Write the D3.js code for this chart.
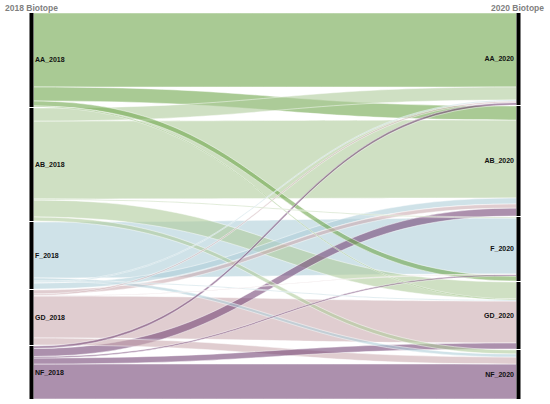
<!DOCTYPE html>
<html><head><meta charset="utf-8">
<script src="https://cdn.jsdelivr.net/npm/d3@7"></script>
<style>html,body{margin:0;padding:0;background:#fff;}svg{display:block;}</style>
</head><body>
<svg id="chart" width="550" height="404"></svg>
<script>
// ---- data ----
const categories = ["AA", "AB", "F", "GD", "NF"];
const sourceLabels = ["AA_2018", "AB_2018", "F_2018", "GD_2018", "NF_2018"];
const targetLabels = ["AA_2020", "AB_2020", "F_2020", "GD_2020", "NF_2020"];
const headers = ["2018 Biotope", "2020 Biotope"];
// flow values: rows = 2018 biotope, columns = 2020 biotope (AA, AB, F, GD, NF)
const flowAA = [74, 14, 5, 1, 0];
const flowAB = [13, 78, 1, 17, 4];
const flowF  = [1, 6, 56, 1, 3];
const flowGD = [1.5, 4, 0.5, 42, 7];
const flowNF = [2.5, 8, 1.5, 6, 35];
const flows = [flowAA, flowAB, flowF, flowGD, flowNF];
// stacking order of the links at each 2018 node (targets) and each 2020 node (sources)
const outOrder = [
  ["AA", "AB", "F", "GD", "NF"],
  ["AA", "AB", "F", "GD", "NF"],
  ["F", "NF", "GD", "AA", "AB"],
  ["AB", "AA", "F", "GD", "NF"],
  ["AA", "AB", "F", "GD", "NF"]
];
const inOrder = [
  ["AA", "AB", "F", "GD", "NF"],
  ["AA", "AB", "F", "GD", "NF"],
  ["AB", "F", "GD", "NF", "AA"],
  ["AB", "AA", "F", "GD", "NF"],
  ["AB", "F", "GD", "NF", "AA"]
];
const colors = ["#70a74d", "#afcb9b", "#afcfd9", "#cbacb1", "#744676"];

// ---- layout ----
(function () {
const svg = d3.select("#chart");
const yTop = 13, yBottom = 399;
const xLeft = 29.5, xRight = 516.5, barW = 4;
const pad = 1;
const total = d3.sum(flows.flat());
const y = d3.scaleLinear().domain([0, total + pad * (categories.length - 1)]).range([yTop, yBottom]);
const color = d3.scaleOrdinal().domain(categories).range(colors);

const idx = c => categories.indexOf(c);
const srcTotals = flows.map(r => d3.sum(r));
const tgtTotals = categories.map((c, j) => d3.sum(flows, r => r[j]));

function nodeStarts(tot) {
  let acc = 0; return tot.map(v => { const s = acc; acc += v + pad; return s; });
}
const srcStart = nodeStarts(srcTotals);
const tgtStart = nodeStarts(tgtTotals);

const links = [];
categories.forEach((s, i) => categories.forEach((t, j) => {
  if (flows[i][j] > 0) links.push({s: i, t: j, v: flows[i][j]});
}));
categories.forEach((c, i) => {
  let acc = srcStart[i];
  outOrder[i].forEach(tc => {
    const l = links.find(d => d.s === i && d.t === idx(tc));
    if (l) { l.sy0 = acc; acc += l.v; l.sy1 = acc; }
  });
});
categories.forEach((c, j) => {
  let acc = tgtStart[j];
  inOrder[j].forEach(sc => {
    const l = links.find(d => d.t === j && d.s === idx(sc));
    if (l) { l.ty0 = acc; acc += l.v; l.ty1 = acc; }
  });
});

const x0 = xLeft + barW, x1 = xRight;
const xm = (x0 + x1) / 2;
function ribbon(d) {
  const a = y(d.sy0), b = y(d.sy1), c = y(d.ty0), e = y(d.ty1);
  const p = d3.path();
  p.moveTo(x0, a);
  p.bezierCurveTo(xm, a, xm, c, x1, c);
  p.lineTo(x1, e);
  p.bezierCurveTo(xm, e, xm, b, x0, b);
  p.closePath();
  return p.toString();
}

svg.append("g").selectAll("path")
  .data(links.slice().sort((a, b) => b.v - a.v))
  .join("path")
  .attr("d", ribbon)
  .attr("fill", d => color(categories[d.s]))
  .attr("fill-opacity", 0.6)
  .attr("stroke", "#fff")
  .attr("stroke-width", 0.6)
  .attr("stroke-opacity", 0.8);

svg.append("g").selectAll("rect").data(categories).join("rect")
  .attr("x", xLeft).attr("width", barW)
  .attr("y", (c, i) => y(srcStart[i]))
  .attr("height", (c, i) => y(srcStart[i] + srcTotals[i]) - y(srcStart[i]))
  .attr("fill", "#000");
svg.append("g").selectAll("rect").data(categories).join("rect")
  .attr("x", xRight).attr("width", barW)
  .attr("y", (c, j) => y(tgtStart[j]))
  .attr("height", (c, j) => y(tgtStart[j] + tgtTotals[j]) - y(tgtStart[j]))
  .attr("fill", "#000");

const font = "'Liberation Sans', Arial, Helvetica, sans-serif";
svg.append("g").selectAll("text").data(sourceLabels).join("text")
  .attr("x", xLeft + barW + 1.5)
  .attr("y", (d, i) => y(srcStart[i] + srcTotals[i] / 2))
  .attr("dy", "0.35em")
  .attr("font-family", font).attr("font-size", 7).attr("font-weight", "bold")
  .attr("fill", "#111").text(d => d);
svg.append("g").selectAll("text").data(targetLabels).join("text")
  .attr("x", xRight - 2.5)
  .attr("y", (d, j) => y(tgtStart[j] + tgtTotals[j] / 2))
  .attr("dy", "0.35em").attr("text-anchor", "end")
  .attr("font-family", font).attr("font-size", 7).attr("font-weight", "bold")
  .attr("fill", "#111").text(d => d);

svg.append("text").attr("x", 5).attr("y", 10.5)
  .attr("font-family", font).attr("font-size", 8.5).attr("font-weight", "bold")
  .attr("fill", "#7f7f7f").text(headers[0]);
svg.append("text").attr("x", 544).attr("y", 10.5).attr("text-anchor", "end")
  .attr("font-family", font).attr("font-size", 8.5).attr("font-weight", "bold")
  .attr("fill", "#7f7f7f").text(headers[1]);
})();
</script>
</body></html>
